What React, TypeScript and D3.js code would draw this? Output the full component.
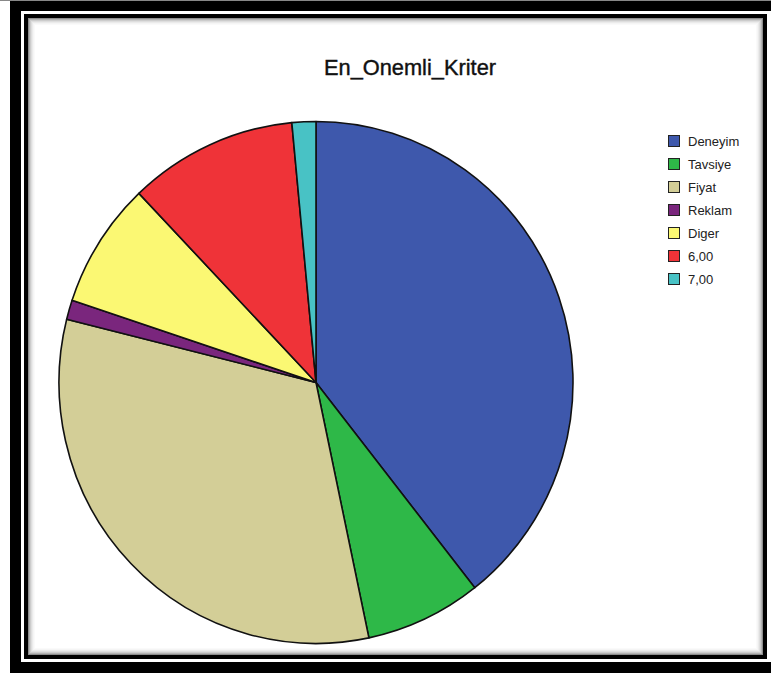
import React from "react";
import * as d3 from "d3";

const categories = ["Deneyim", "Tavsiye", "Fiyat", "Reklam", "Diger", "6,00", "7,00"];
const values = [39.4, 7.3, 32.2, 1.2, 7.8, 10.6, 1.5];
const colors = ["#3e58ac", "#2eb848", "#d3ce97", "#7a267d", "#fbf873", "#ef3338", "#48c2c5"];
const title = "En_Onemli_Kriter";

const W = 771;
const H = 677;

export default function App() {
  const cx = 316;
  const cy = 382.5;
  const r = 259;
  const data = categories.map((c, i) => ({ c, v: values[i], col: colors[i] }));
  const pie = d3.pie<any>().value((d) => d.v).sort(null);
  const arcs = pie(data);
  const arc = d3.arc<any>().innerRadius(0).outerRadius(r);
  const legendY = d3.scalePoint<string>().domain(categories).range([141, 279]);

  // inner panel bounds
  const ix0 = 28, iy0 = 18, ix1 = 763, iy1 = 655;
  const shade = [0.45, 0.3, 0.2, 0.13, 0.08, 0.04, 0.02];

  return (
    <svg width={W} height={H} style={{ position: "absolute", left: 0, top: 0 }}
      fontFamily="'Liberation Sans', Arial, sans-serif">
      <rect x={0} y={0} width={W} height={H} fill="#fff" />
      <rect x={0} y={0} width={W} height={1} fill="#888" />
      {/* outer black frame */}
      <rect x={10} y={1} width={W + 20} height={672} fill="#000" />
      <rect x={21} y={11} width={W} height={651} fill="#fff" />
      {/* inner black frame */}
      <rect x={24} y={14} width={743} height={645} fill="#000" />
      <rect x={ix0} y={iy0} width={ix1 - ix0} height={iy1 - iy0} fill="#fff" />
      {/* inset shading */}
      {shade.map((o, k) => (
        <rect key={k} x={ix0 + k + 0.5} y={iy0 + k + 0.5}
          width={ix1 - ix0 - 2 * k - 1} height={iy1 - iy0 - 2 * k - 1}
          fill="none" stroke="#000" strokeOpacity={o} strokeWidth={1} />
      ))}
      <text x={410} y={75} textAnchor="middle" fontSize={21.8} fill="#111"
        stroke="#111" strokeWidth={0.4}>{title}</text>
      <g transform={`translate(${cx},${cy}) scale(0.9923,1.0077)`}>
        {arcs.map((a, i) => (
          <path key={i} d={arc(a) as string} fill={a.data.col} stroke="#111" strokeWidth={1.6} strokeLinejoin="round" />
        ))}
      </g>
      <g>
        {data.map((d) => (
          <g key={d.c} transform={`translate(668,${legendY(d.c)})`}>
            <rect x={0.5} y={-5.5} width={11} height={11} fill={d.col} stroke="#222" strokeWidth={1} />
            <text x={20} y={4.5} fontSize={13} fill="#222">{d.c}</text>
          </g>
        ))}
      </g>
    </svg>
  );
}
